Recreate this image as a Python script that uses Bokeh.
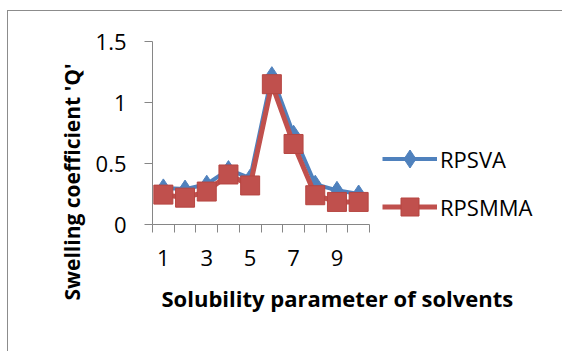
from bokeh.plotting import figure
from bokeh.models import FixedTicker, Legend, LegendItem, Title
from bokeh.embed import file_html
from bokeh.resources import INLINE

categories = [1, 2, 3, 4, 5, 6, 7, 8, 9, 10]
rpsva = [0.30, 0.29, 0.33, 0.45, 0.38, 1.22, 0.74, 0.33, 0.28, 0.25]
rpsmma = [0.245, 0.22, 0.27, 0.41, 0.32, 1.15, 0.66, 0.24, 0.185, 0.185]
x_tick_labels = [1, 3, 5, 7, 9]
y_ticks = [0, 0.5, 1, 1.5]
y_tick_labels = ["0", "0.5", "1", "1.5"]

BLUE = "#4F81BD"
RED = "#C0504D"
GRAY = "#868686"
FONT = "Open Sans"

# frame: left edge at canvas x=144, bottom at canvas y=213; 21.7 px per category, 122 px per unit
FRAME_W = 555 - 144
FRAME_H = 213
x_end = 0.5 + FRAME_W / 21.7
y_end = FRAME_H / 122.0

p = figure(width=555, height=341, x_range=(0.5, x_end), y_range=(0, y_end),
           min_border_left=144, min_border_right=0, min_border_top=0,
           min_border_bottom=128, output_backend="svg", toolbar_location=None)
p.margin = (10, 0, 0, 7)
p.styles = {"border-left": "1px solid #8C8C8C", "border-top": "1px solid #8C8C8C"}
p.outline_line_color = None
p.xgrid.visible = False
p.ygrid.visible = False
p.background_fill_color = "white"
p.border_fill_color = "white"

# axes
xa = p.xaxis[0]
xa.bounds = (0.5, 10.5)
xa.ticker = FixedTicker(ticks=x_tick_labels, minor_ticks=[c - 0.5 for c in categories] + [categories[-1] + 0.5])
xa.axis_line_color = GRAY
xa.major_tick_out = 0
xa.major_tick_in = 0
xa.minor_tick_out = 8
xa.minor_tick_in = 0
xa.minor_tick_line_color = GRAY
xa.major_label_standoff = 17
xa.major_label_text_font = FONT
xa.major_label_text_font_size = "22px"
xa.major_label_text_color = "black"

ya = p.yaxis[0]
ya.bounds = (0, 1.5)
ya.ticker = FixedTicker(ticks=y_ticks, minor_ticks=[])
ya.major_label_overrides = {t: l for t, l in zip(y_ticks, y_tick_labels)}
ya.axis_line_color = GRAY
ya.major_tick_out = 8
ya.major_tick_in = 0
ya.major_tick_line_color = GRAY
ya.minor_tick_out = 0
ya.minor_tick_in = 0
ya.major_label_standoff = 18
ya.major_label_text_font = FONT
ya.major_label_text_font_size = "22px"
ya.major_label_text_color = "black"

# series
bl = p.line(categories, rpsva, line_color=BLUE, line_width=4)
bm = p.scatter(categories, rpsva, marker="diamond", size=18, fill_color=BLUE, line_color=BLUE)
rl = p.line(categories, rpsmma, line_color=RED, line_width=5)
rm = p.scatter(categories, rpsmma, marker="square", size=19, fill_color=RED, line_color="#B64541")

legend = Legend(items=[LegendItem(label="RPSVA", renderers=[bl, bm]),
                       LegendItem(label="RPSMMA", renderers=[rl, rm])],
                location=(230, -5), orientation="vertical",
                glyph_width=55, glyph_height=45, spacing=3, padding=0, margin=0,
                label_standoff=3, label_text_font=FONT, label_text_font_size="22px",
                label_text_color="black", border_line_alpha=0, background_fill_alpha=0)
p.add_layout(legend)

# axis titles
xt = Title(text="Solubility parameter of solvents", align="left", offset=9,
           text_font=FONT, text_font_style="bold", text_font_size="22px",
           text_color="black", standoff=25)
p.add_layout(xt, "below")
yt = Title(text="Swelling coefficient 'Q'", align="left", offset=-76,
           text_font=FONT, text_font_style="bold", text_font_size="21px",
           text_color="black", standoff=14)
p.add_layout(yt, "left")

open("out.html", "w").write(file_html(p, INLINE))
